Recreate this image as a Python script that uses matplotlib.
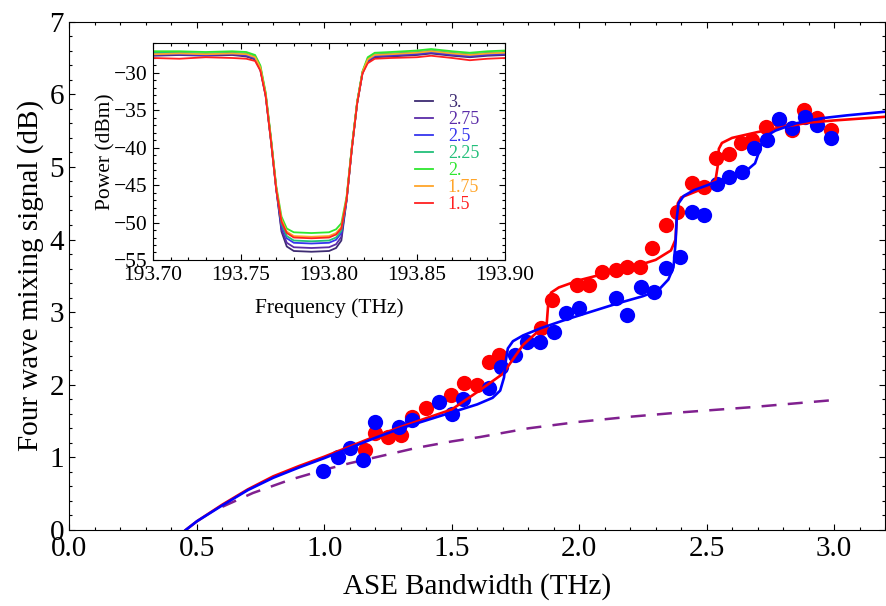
import matplotlib
matplotlib.use("Agg")
import matplotlib.pyplot as plt
from matplotlib.ticker import MultipleLocator, FormatStrFormatter

plt.rcParams['font.family'] = ['Liberation Serif', 'DejaVu Serif']
plt.rcParams['mathtext.fontset'] = 'stix'

# --- main chart: measured FWM points ---
red_x = [1.158, 1.197, 1.248, 1.302, 1.345, 1.400, 1.498, 1.549, 1.600, 1.647, 1.686,
         1.851, 1.894, 1.992, 2.039, 2.090, 2.145, 2.188, 2.238, 2.285, 2.340, 2.383,
         2.441, 2.489, 2.536, 2.587, 2.634, 2.677, 2.732, 2.783, 2.834, 2.881, 2.932, 2.987]
red_y = [1.10, 1.34, 1.28, 1.31, 1.56, 1.68, 1.86, 2.02, 2.00, 2.31, 2.41,
         2.78, 3.17, 3.37, 3.37, 3.55, 3.58, 3.62, 3.62, 3.88, 4.20, 4.38,
         4.78, 4.72, 5.12, 5.18, 5.33, 5.37, 5.55, 5.65, 5.51, 5.79, 5.67, 5.51]

blue_x = [0.993, 1.052, 1.099, 1.150, 1.197, 1.294, 1.345, 1.451, 1.502, 1.545, 1.647,
          1.694, 1.749, 1.796, 1.847, 1.902, 1.949, 2.000, 2.144, 2.188, 2.242, 2.293,
          2.340, 2.395, 2.442, 2.489, 2.540, 2.587, 2.638, 2.685, 2.736, 2.783, 2.834,
          2.885, 2.932, 2.987]
blue_y = [0.81, 1.01, 1.13, 0.96, 1.49, 1.42, 1.52, 1.76, 1.60, 1.80, 1.96,
          2.25, 2.41, 2.59, 2.59, 2.73, 2.99, 3.06, 3.20, 2.96, 3.35, 3.28,
          3.61, 3.76, 4.38, 4.34, 4.77, 4.86, 4.93, 5.26, 5.37, 5.66, 5.54,
          5.69, 5.58, 5.40]

# fitted curves
red_fit_x = [0.456, 0.50, 0.60, 0.70, 0.80, 0.90, 1.00, 1.10, 1.20, 1.30, 1.40, 1.50,
             1.60, 1.70, 1.78, 1.84, 1.872, 1.876, 1.88, 1.89, 1.92, 2.00, 2.10, 2.20,
             2.30, 2.36, 2.378, 2.383, 2.387, 2.40, 2.45, 2.50, 2.535, 2.543, 2.548,
             2.56, 2.60, 2.70, 2.80, 2.90, 3.00, 3.20]
red_fit_y = [0.00, 0.12, 0.35, 0.56, 0.74, 0.88, 1.01, 1.15, 1.29, 1.42, 1.54, 1.66,
             1.90, 2.15, 2.55, 2.74, 2.81, 3.00, 3.18, 3.27, 3.34, 3.44, 3.53, 3.61,
             3.72, 3.85, 4.00, 4.35, 4.50, 4.58, 4.65, 4.72, 4.82, 5.00, 5.25,
             5.33, 5.40, 5.48, 5.55, 5.61, 5.64, 5.69]

blue_fit_x = [0.456, 0.50, 0.60, 0.70, 0.80, 0.90, 1.00, 1.10, 1.20, 1.30, 1.40, 1.50,
              1.60, 1.66, 1.69, 1.705, 1.713, 1.72, 1.74, 1.78, 1.85, 1.95, 2.05, 2.15,
              2.25, 2.31, 2.35, 2.37, 2.378, 2.383, 2.39, 2.41, 2.45, 2.52, 2.60, 2.66,
              2.69, 2.705, 2.715, 2.73, 2.77, 2.85, 2.95, 3.05, 3.20]
blue_fit_y = [0.00, 0.12, 0.34, 0.55, 0.72, 0.86, 0.99, 1.13, 1.27, 1.40, 1.51, 1.62,
              1.73, 1.82, 1.92, 2.10, 2.35, 2.50, 2.60, 2.68, 2.78, 2.90, 3.01, 3.12,
              3.22, 3.30, 3.45, 3.62, 3.95, 4.30, 4.50, 4.60, 4.68, 4.77, 4.87, 4.96,
              5.05, 5.20, 5.32, 5.42, 5.50, 5.60, 5.67, 5.71, 5.76]

dash_x = [0.60, 0.72, 0.864, 1.00, 1.10, 1.20, 1.36, 1.50, 1.61, 1.80, 2.00, 2.20,
          2.40, 2.67, 3.00]
dash_y = [0.32, 0.51, 0.69, 0.83, 0.92, 1.00, 1.13, 1.22, 1.28, 1.40, 1.49, 1.56,
          1.62, 1.69, 1.79]

# --- inset: spectra ---
freq = [193.700, 193.715, 193.730, 193.745, 193.753, 193.758, 193.761, 193.764,
        193.767, 193.770, 193.773, 193.776, 193.780, 193.790, 193.800, 193.804,
        193.807, 193.810, 193.813, 193.816, 193.819, 193.822, 193.826, 193.835,
        193.850, 193.858, 193.870, 193.880, 193.890, 193.900]
spec_labels = ['3.', '2.75', '2.5', '2.25', '2.', '1.75', '1.5']
spec_colors = ['#3d2b72', '#5b2ca8', '#3535ee', '#22bf7a', '#2ee62e', '#ffa52a', '#ff2020']
p_300 = [-27.7, -27.6, -27.7, -27.6, -27.8, -28.2, -29.6, -33.0, -39.0, -45.5, -51.2, -53.2,
         -53.8, -53.9, -53.8, -53.4, -52.4, -47.0, -40.0, -34.0, -30.0, -28.5, -27.9, -27.8,
         -27.6, -27.4, -27.7, -27.9, -27.7, -27.6]
p_275 = [-27.6, -27.5, -27.6, -27.5, -27.7, -28.1, -29.5, -33.0, -39.0, -45.5, -50.9, -52.7,
         -53.3, -53.4, -53.3, -52.9, -51.9, -47.0, -40.0, -34.0, -30.0, -28.4, -27.8, -27.7,
         -27.5, -27.3, -27.6, -27.8, -27.6, -27.5]
p_250 = [-27.5, -27.5, -27.6, -27.4, -27.6, -28.0, -29.4, -32.9, -38.9, -45.4, -50.4, -52.1,
         -52.7, -52.8, -52.7, -52.3, -51.4, -46.9, -40.0, -34.0, -30.0, -28.3, -27.7, -27.6,
         -27.4, -27.2, -27.5, -27.7, -27.5, -27.4]
p_225 = [-27.3, -27.3, -27.4, -27.3, -27.4, -27.8, -29.2, -32.8, -38.8, -45.3, -50.1, -51.8,
         -52.4, -52.5, -52.4, -52.0, -51.1, -46.8, -39.9, -33.9, -29.9, -28.1, -27.5, -27.4,
         -27.2, -27.0, -27.3, -27.5, -27.3, -27.2]
p_200 = [-27.1, -27.1, -27.2, -27.1, -27.2, -27.6, -29.0, -32.6, -38.6, -45.1, -49.2, -50.8,
         -51.3, -51.4, -51.3, -50.9, -50.1, -46.5, -39.8, -33.8, -29.8, -27.9, -27.3, -27.2,
         -27.0, -26.8, -27.1, -27.3, -27.1, -27.0]
p_175 = [-27.5, -27.4, -27.5, -27.4, -27.5, -27.9, -29.3, -32.8, -38.8, -45.3, -49.6, -51.2,
         -51.8, -51.9, -51.8, -51.4, -50.6, -46.7, -39.9, -33.9, -29.9, -28.2, -27.6, -27.5,
         -27.3, -27.1, -27.4, -27.6, -27.4, -27.3]
p_150 = [-28.0, -28.1, -27.9, -28.0, -28.1, -28.4, -29.7, -33.1, -39.1, -45.6, -49.9, -51.4,
         -52.0, -52.1, -52.0, -51.6, -50.8, -46.9, -40.1, -34.1, -30.1, -28.7, -28.1, -28.0,
         -27.9, -27.7, -28.0, -28.3, -28.1, -28.0]
spectra = [p_300, p_275, p_250, p_225, p_200, p_175, p_150]

fig = plt.figure(figsize=(8.86, 6.06), dpi=100)
ax = fig.add_axes([0.0784, 0.1254, 0.9205, 0.8388])

ax.plot(red_x, red_y, 'o', color='#ff0000', markersize=11, markeredgewidth=0, zorder=3)
ax.plot(blue_x, blue_y, 'o', color='#0000ff', markersize=11, markeredgewidth=0, zorder=3)
ax.plot(red_fit_x, red_fit_y, color='#ff0000', lw=1.9, zorder=4)
ax.plot(blue_fit_x, blue_fit_y, color='#0000ff', lw=1.9, zorder=5)
ax.plot(dash_x, dash_y, color='#80208f', lw=1.8, dashes=(6.0, 4.5), zorder=2)

ax.set_xlim(0, 3.2)
ax.set_ylim(0, 7)
ax.xaxis.set_major_locator(MultipleLocator(0.5))
ax.xaxis.set_minor_locator(MultipleLocator(0.1))
ax.yaxis.set_major_locator(MultipleLocator(1))
ax.yaxis.set_minor_locator(MultipleLocator(0.2))
ax.xaxis.set_major_formatter(FormatStrFormatter('%.1f'))
ax.tick_params(which='both', direction='in', top=True, right=True, width=0.8)
ax.tick_params(which='major', length=4.2, labelsize=21, pad=4)
ax.tick_params(which='minor', length=2.4)
ax.set_xlabel('ASE Bandwidth (THz)', fontsize=21, labelpad=8)
ax.set_ylabel('Four wave mixing signal (dB)', fontsize=21, labelpad=4)
for s in ax.spines.values():
    s.set_linewidth(0.8)

# inset
ins = fig.add_axes([0.1727, 0.571, 0.3973, 0.358])
for p, c, lab in zip(spectra, spec_colors, spec_labels):
    ins.plot(freq, p, color=c, lw=1.3, label=lab)
ins.set_xlim(193.70, 193.90)
ins.set_ylim(-55, -26)
ins.xaxis.set_major_locator(MultipleLocator(0.05))
ins.xaxis.set_minor_locator(MultipleLocator(0.01))
ins.yaxis.set_major_locator(MultipleLocator(5))
ins.yaxis.set_minor_locator(MultipleLocator(1))
ins.xaxis.set_major_formatter(FormatStrFormatter('%.2f'))
ins.tick_params(which='both', direction='in', top=True, right=True, width=0.8)
ins.tick_params(which='major', length=4, labelsize=15.5, pad=4)
ins.tick_params(which='minor', length=2.2)
ins.set_xlabel('Frequency (THz)', fontsize=15.5, labelpad=10)
ins.set_ylabel('Power (dBm)', fontsize=15.5, labelpad=-1)
for s in ins.spines.values():
    s.set_linewidth(0.8)

leg = ins.legend(loc='upper left', bbox_to_anchor=(0.745, 0.765), frameon=False,
                 fontsize=13, handlelength=1.0, handletextpad=0.8, labelspacing=0.0,
                 borderpad=0, borderaxespad=0)
for t, c in zip(leg.get_texts(), spec_colors):
    t.set_color(c)

fig.savefig('out.png', dpi=100)
